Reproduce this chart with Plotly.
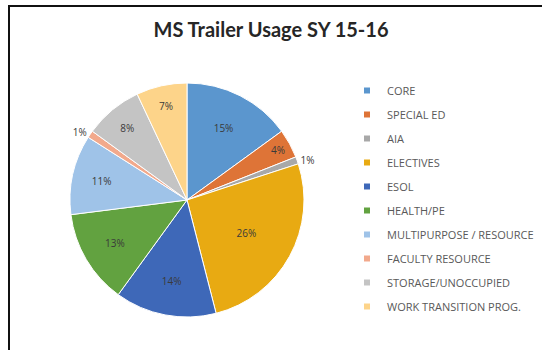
import plotly.graph_objects as go

# Share of middle-school trailer rooms by use, SY 15-16
categories = [
    "CORE", "SPECIAL ED", "AIA", "ELECTIVES", "ESOL", "HEALTH/PE",
    "MULTIPURPOSE / RESOURCE", "FACULTY RESOURCE", "STORAGE/UNOCCUPIED",
    "WORK TRANSITION PROG.",
]
percents = [15, 4, 1, 26, 14, 13, 11, 1, 8, 7]
colors = [
    "#5B96CE", "#DE7437", "#A8A8A8", "#E8AA12", "#3E68B8", "#62A240",
    "#9FC3E8", "#F2A98C", "#C4C4C4", "#FDD48A",
]

W, H = 542, 350
cx, cy, r = 187, 200, 117  # pie centre / radius in pixels

text_pos = ["outside" if p <= 1 else "inside" for p in percents]

fig = go.Figure()
fig.add_trace(go.Pie(
    labels=categories,
    values=percents,
    sort=False,
    direction="clockwise",
    rotation=0,
    marker=dict(colors=colors, line=dict(color="white", width=1)),
    textinfo="percent",
    texttemplate="%{value}%",
    textposition=text_pos,
    insidetextorientation="horizontal",
    textfont=dict(family="Open Sans", size=10, color="#3A3A3A"),
    showlegend=False,
    domain=dict(x=[(cx - r) / W, (cx + r) / W],
                y=[(H - cy - r) / H, (H - cy + r) / H]),
))

# Legend entries, one group per category for even vertical spacing
for name, col in zip(categories, colors):
    fig.add_trace(go.Scatter(
        x=[None], y=[None], mode="markers", name=name,
        legendgroup=name,
        marker=dict(symbol="square", size=6, color=col),
    ))

fig.update_layout(
    width=W, height=H,
    margin=dict(l=0, r=0, t=0, b=0),
    paper_bgcolor="white",
    plot_bgcolor="white",
    title=dict(
        text="<b>MS Trailer Usage SY 15-16</b>",
        x=0.5, xanchor="center", y=1 - 30 / H, yanchor="middle",
        font=dict(family="Lato", size=20, color="#262626"),
    ),
    xaxis=dict(visible=False, domain=[0.99, 1]),
    yaxis=dict(visible=False, domain=[0.99, 1]),
    legend=dict(
        x=347 / W, y=1 - 76 / H, xanchor="left", yanchor="top",
        font=dict(family="Open Sans", size=11, color="#595959"),
        itemwidth=30, tracegroupgap=5,
        bgcolor="rgba(0,0,0,0)",
    ),
    shapes=[dict(
        type="rect", xref="paper", yref="paper",
        x0=9 / W, x1=1.02, y0=-0.02, y1=1 - 6 / H,
        line=dict(color="#111111", width=2),
    )],
)

fig.write_html("out.html")
